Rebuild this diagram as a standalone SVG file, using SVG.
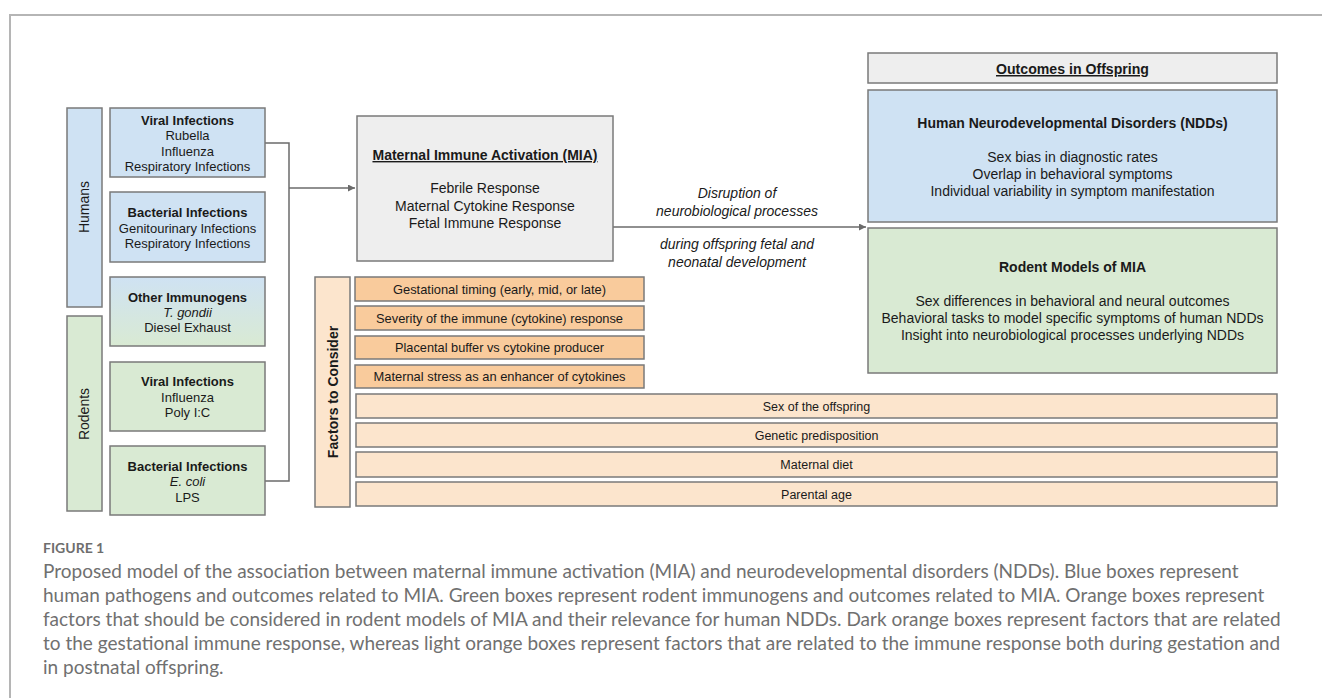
<svg xmlns="http://www.w3.org/2000/svg" width="1322" height="698" viewBox="0 0 1322 698">
<style>
.t{font-family:"Liberation Sans",Arial,sans-serif;fill:#1a1a1a;text-anchor:middle}
.s13{font-size:13px}.s14{font-size:14px}.s12{font-size:12.5px}
.b{font-weight:bold}.i{font-style:italic}.u{text-decoration:underline}
.box{stroke:#7a7a7a;stroke-width:1.5}
.blue{fill:#cfe2f3}.green{fill:#d9ead3}.gray{fill:#eeeeee}.dor{fill:#f9cb9c}.lor{fill:#fce5cd}
.conn{fill:none;stroke:#6b6b6b;stroke-width:1.5}
.cap{font-family:Lato,"Open Sans",sans-serif;fill:#707070;font-size:19px}
</style>
<defs>
<linearGradient id="gOther" x1="0" y1="0" x2="0" y2="1">
<stop offset="0" stop-color="#cfe2f3"/><stop offset="1" stop-color="#d9ead3"/>
</linearGradient>
<marker id="arr" viewBox="0 0 10 10" refX="10" refY="5" markerWidth="7" markerHeight="7" markerUnits="userSpaceOnUse" orient="auto">
<path d="M0,0 L10,5 L0,10 z" fill="#6b6b6b"/>
</marker>
</defs>
<rect width="1322" height="698" fill="#ffffff"/>
<path d="M10,698 V15 H1322" fill="none" stroke="#b5b5b5" stroke-width="2"/>

<g id="connectors">
<path class="conn" d="M265,143 H289 V481 H265"/>
<path class="conn" d="M289,188 H355" marker-end="url(#arr)"/>
<path class="conn" d="M613,227 H866" marker-end="url(#arr)"/>
</g>

<g id="humans"><rect class="box blue" x="67" y="108" width="35" height="199"/>
<text class="t s14" transform="translate(89,207) rotate(-90)">Humans</text></g>
<g id="rodents"><rect class="box green" x="67" y="316" width="35" height="195"/>
<text class="t s14" transform="translate(89,414) rotate(-90)">Rodents</text></g>

<g id="viral-h"><rect class="box blue" x="110" y="108" width="155" height="69"/>
<text class="t s13 b" x="187.5" y="124.5">Viral Infections</text>
<text class="t s13" x="187.5" y="139.5">Rubella</text>
<text class="t s13" x="187.5" y="155.5">Influenza</text>
<text class="t s13" x="187.5" y="170.5">Respiratory Infections</text></g>

<g id="bacterial-h"><rect class="box blue" x="110" y="192" width="155" height="70"/>
<text class="t s13 b" x="187.5" y="216.5">Bacterial Infections</text>
<text class="t s13" x="187.5" y="232.5">Genitourinary Infections</text>
<text class="t s13" x="187.5" y="247.5">Respiratory Infections</text></g>

<g id="other"><rect class="box" fill="url(#gOther)" x="110" y="277" width="155" height="69"/>
<text class="t s13 b" x="187.5" y="301.5">Other Immunogens</text>
<text class="t s13 i" x="187.5" y="316.5">T. gondii</text>
<text class="t s13" x="187.5" y="331.5">Diesel Exhaust</text></g>

<g id="viral-r"><rect class="box green" x="110" y="362" width="155" height="69"/>
<text class="t s13 b" x="187.5" y="385.5">Viral Infections</text>
<text class="t s13" x="187.5" y="401.5">Influenza</text>
<text class="t s13" x="187.5" y="416.5">Poly I:C</text></g>

<g id="bacterial-r"><rect class="box green" x="110" y="446" width="155" height="69"/>
<text class="t s13 b" x="187.5" y="470.5">Bacterial Infections</text>
<text class="t s13 i" x="187.5" y="485.5">E. coli</text>
<text class="t s13" x="187.5" y="501.5">LPS</text></g>

<g id="mia"><rect class="box gray" x="357" y="116" width="256" height="145"/>
<text class="t s14 b u" x="485" y="160">Maternal Immune Activation (MIA)</text>
<text class="t s14" x="485" y="193">Febrile Response</text>
<text class="t s14" x="485" y="211">Maternal Cytokine Response</text>
<text class="t s14" x="485" y="228">Fetal Immune Response</text></g>

<g id="arrow-label">
<text class="t s14 i" x="737" y="198">Disruption of</text>
<text class="t s14 i" x="737" y="216">neurobiological processes</text>
<text class="t s14 i" x="737" y="249">during offspring fetal and</text>
<text class="t s14 i" x="737" y="267">neonatal development</text></g>

<g id="outcomes"><rect class="box gray" x="868" y="53" width="409" height="30"/>
<text class="t b u" style="font-size:15px;font-family:'Liberation Sans Narrow','Liberation Sans',sans-serif" x="1072.5" y="74" textLength="153" lengthAdjust="spacingAndGlyphs">Outcomes in Offspring</text></g>

<g id="ndd"><rect class="box blue" x="868" y="90" width="409" height="132"/>
<text class="t s14 b" x="1072.5" y="128">Human Neurodevelopmental Disorders (NDDs)</text>
<text class="t s14" x="1072.5" y="162">Sex bias in diagnostic rates</text>
<text class="t s14" x="1072.5" y="179">Overlap in behavioral symptoms</text>
<text class="t s14" x="1072.5" y="196">Individual variability in symptom manifestation</text></g>

<g id="rodent-models"><rect class="box green" x="868" y="228" width="409" height="145"/>
<text class="t s14 b" x="1072.5" y="272">Rodent Models of MIA</text>
<text class="t s14" x="1072.5" y="306">Sex differences in behavioral and neural outcomes</text>
<text class="t s14" x="1072.5" y="323">Behavioral tasks to model specific symptoms of human NDDs</text>
<text class="t s14" x="1072.5" y="340">Insight into neurobiological processes underlying NDDs</text></g>

<g id="factors"><rect class="box lor" x="315" y="277" width="35" height="230"/>
<text class="t s14 b" transform="translate(338,392) rotate(-90)">Factors to Consider</text></g>

<g id="f-timing"><rect class="box dor" x="355" y="277" width="289" height="24"/>
<text class="t s13" x="499.5" y="293.5" textLength="213" lengthAdjust="spacingAndGlyphs">Gestational timing (early, mid, or late)</text></g>
<g id="f-severity"><rect class="box dor" x="355" y="306" width="289" height="24"/>
<text class="t s13" x="499.5" y="322.5" textLength="247" lengthAdjust="spacingAndGlyphs">Severity of the immune (cytokine) response</text></g>
<g id="f-placental"><rect class="box dor" x="355" y="336" width="289" height="23"/>
<text class="t s13" x="499.5" y="352" textLength="209" lengthAdjust="spacingAndGlyphs">Placental buffer vs cytokine producer</text></g>
<g id="f-stress"><rect class="box dor" x="355" y="365" width="289" height="23"/>
<text class="t s13" x="499.5" y="381" textLength="252" lengthAdjust="spacingAndGlyphs">Maternal stress as an enhancer of cytokines</text></g>

<g id="f-sex"><rect class="box lor" x="356" y="394" width="921" height="24"/>
<text class="t s12" x="816.5" y="410.5">Sex of the offspring</text></g>
<g id="f-genetic"><rect class="box lor" x="356" y="423" width="921" height="24"/>
<text class="t s12" x="816.5" y="439.5">Genetic predisposition</text></g>
<g id="f-diet"><rect class="box lor" x="356" y="452" width="921" height="25"/>
<text class="t s12" x="816.5" y="469">Maternal diet</text></g>
<g id="f-age"><rect class="box lor" x="356" y="482" width="921" height="24"/>
<text class="t s12" x="816.5" y="498.5">Parental age</text></g>

<g id="caption">
<text x="43" y="553" style="font-family:Lato,'Open Sans',sans-serif;font-size:14px;font-weight:bold;fill:#6e6e6e">FIGURE 1</text>
<text class="cap" x="43" y="578">Proposed model of the association between maternal immune activation (MIA) and neurodevelopmental disorders (NDDs). Blue boxes represent</text>
<text class="cap" x="43" y="602">human pathogens and outcomes related to MIA. Green boxes represent rodent immunogens and outcomes related to MIA. Orange boxes represent</text>
<text class="cap" x="43" y="626">factors that should be considered in rodent models of MIA and their relevance for human NDDs. Dark orange boxes represent factors that are related</text>
<text class="cap" x="43" y="650">to the gestational immune response, whereas light orange boxes represent factors that are related to the immune response both during gestation and</text>
<text class="cap" x="43" y="674">in postnatal offspring.</text>
</g>
</svg>
